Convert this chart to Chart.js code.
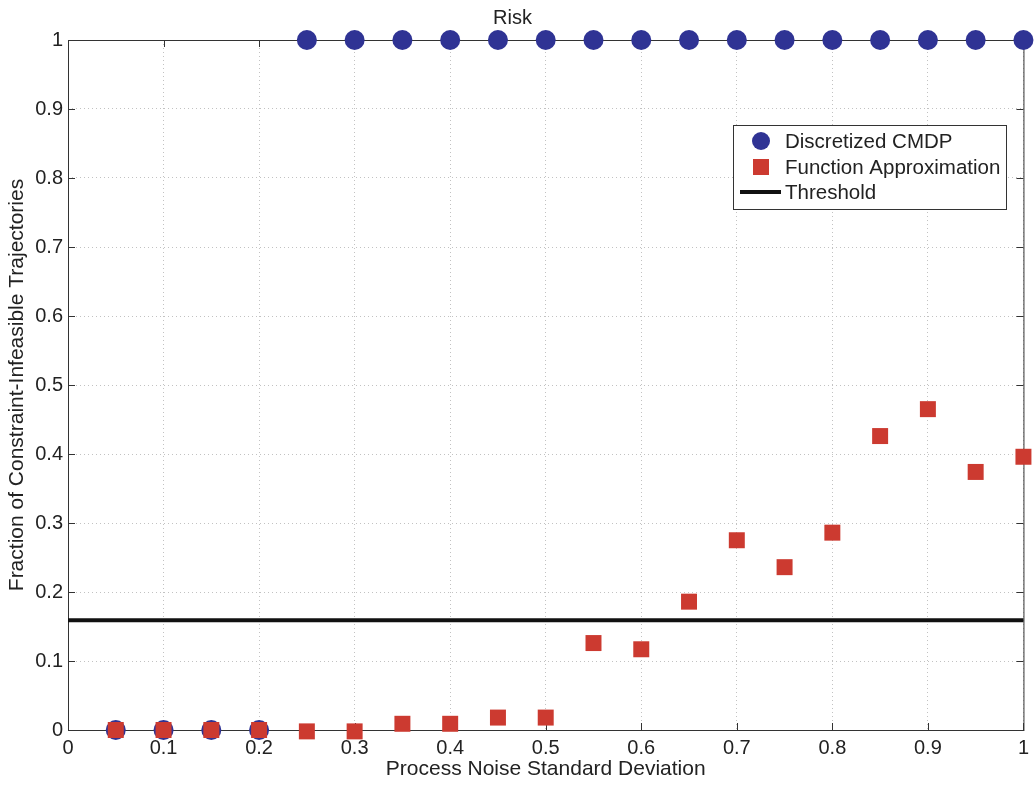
<!DOCTYPE html>
<html><head><meta charset="utf-8">
<script src="https://cdn.jsdelivr.net/npm/chart.js@4"></script>
<style>html,body{margin:0;padding:0;background:#fff}#wrap{width:1035px;height:786px}</style>
</head><body><div id="wrap"><canvas id="c" width="1035" height="786"></canvas></div>
<script>
const xValues = [0.05,0.1,0.15,0.2,0.25,0.3,0.35,0.4,0.45,0.5,0.55,0.6,0.65,0.7,0.75,0.8,0.85,0.9,0.95,1.0];
const cmdpValues = [0,0,0,0,1,1,1,1,1,1,1,1,1,1,1,1,1,1,1,1];
const funcApproxValues = [0,0,0,0,-0.002,-0.002,0.009,0.009,0.018,0.018,0.126,0.117,0.186,0.275,0.236,0.286,0.426,0.465,0.374,0.396];
const thresholdX = [0,1];
const thresholdValue = 0.159;
const tickValues = [0,0.1,0.2,0.3,0.4,0.5,0.6,0.7,0.8,0.9,1];
const seriesLabels = ['Discretized CMDP','Function Approximation','Threshold'];

const BLUE = '#2f3394', RED = '#cc3a30', FONT = '"Liberation Sans", Arial, sans-serif';

const boxPlugin = {
  id: 'box',
  beforeDatasetsDraw(chart) {
    const {ctx, chartArea: a, scales: {x, y}} = chart;
    ctx.save();
    ctx.strokeStyle = '#333'; ctx.lineWidth = 1;
    ctx.strokeRect(a.left + 0.5, a.top + 0.5, a.right - a.left, a.bottom - a.top);
    const L = 7;
    ctx.beginPath();
    tickValues.forEach(v => {
      const px = Math.round(x.getPixelForValue(v)) + 0.5;
      ctx.moveTo(px, a.bottom); ctx.lineTo(px, a.bottom - L);
      ctx.moveTo(px, a.top); ctx.lineTo(px, a.top + L);
      const py = Math.round(y.getPixelForValue(v)) + 0.5;
      ctx.moveTo(a.left, py); ctx.lineTo(a.left + L, py);
      ctx.moveTo(a.right, py); ctx.lineTo(a.right - L, py);
    });
    ctx.stroke();
    ctx.restore();
  },
  afterDraw(chart) {
    const ctx = chart.ctx;
    const bx = 733, by = 125, bw = 273, bh = 84;
    ctx.save();
    ctx.fillStyle = '#fff';
    ctx.fillRect(bx, by, bw, bh);
    ctx.strokeStyle = '#333'; ctx.lineWidth = 1;
    ctx.strokeRect(bx + 0.5, by + 0.5, bw, bh);
    ctx.textBaseline = 'middle';
    const rows = [141, 167, 192];
    ctx.beginPath(); ctx.fillStyle = BLUE; ctx.arc(761, rows[0], 9, 0, Math.PI * 2); ctx.fill();
    ctx.fillStyle = RED; ctx.fillRect(753, rows[1] - 8, 16, 16);
    ctx.strokeStyle = '#111'; ctx.lineWidth = 4;
    ctx.beginPath(); ctx.moveTo(740, rows[2]); ctx.lineTo(781, rows[2]); ctx.stroke();
    ctx.font = '20.5px ' + FONT;
    ctx.fillStyle = '#222';
    seriesLabels.forEach((t, i) => ctx.fillText(t, 785, rows[i] + 1));
    ctx.restore();
  }
};

const toPts = (xs, ys) => xs.map((v, i) => ({x: v, y: ys[i]}));
const gridOpts = { color: '#c2c2c2', drawTicks: false, lineWidth: 1 };
const borderOpts = { display: false, dash: [1, 3] };

new Chart(document.getElementById('c'), {
  type: 'scatter',
  data: {
    datasets: [
      { label: seriesLabels[1], data: toPts(xValues, funcApproxValues), pointStyle: 'rect', pointRadius: 11.3,
        backgroundColor: RED, borderColor: RED, borderWidth: 0, order: 0, clip: false },
      { label: seriesLabels[0], data: toPts(xValues, cmdpValues), pointStyle: 'circle', pointRadius: 10,
        backgroundColor: BLUE, borderColor: BLUE, borderWidth: 0, order: 1, clip: false },
      { label: seriesLabels[2], type: 'line', data: thresholdX.map(v => ({x: v, y: thresholdValue})), borderColor: '#111',
        borderWidth: 4, pointRadius: 0, order: 2, clip: false }
    ]
  },
  options: {
    responsive: false, animation: false,
    layout: { padding: { left: 0, right: 10, top: 0, bottom: 0 } },
    plugins: {
      legend: { display: false },
      tooltip: { enabled: false },
      title: { display: true, text: 'Risk', color: '#222', font: { family: FONT, size: 20, weight: 'normal' }, padding: { top: 6, bottom: 10 } }
    },
    scales: {
      x: {
        type: 'linear', min: 0, max: 1,
        afterBuildTicks: s => { s.ticks = tickValues.map(v => ({value: v})); },
        afterFit: s => { s.height = 56; },
        ticks: { color: '#222', font: { family: FONT, size: 20 }, padding: 6, maxRotation: 0, callback: v => String(+v.toFixed(2)) },
        grid: gridOpts,
        border: borderOpts,
        title: { display: true, text: 'Process Noise Standard Deviation', color: '#222', font: { family: FONT, size: 21 }, padding: { top: 0, bottom: 4 } }
      },
      y: {
        type: 'linear', min: 0, max: 1,
        afterBuildTicks: s => { s.ticks = tickValues.map(v => ({value: v})); },
        afterFit: s => { s.width = 68; },
        ticks: { color: '#222', font: { family: FONT, size: 20 }, padding: 5, callback: v => String(+v.toFixed(2)) },
        grid: gridOpts,
        border: borderOpts,
        title: { display: true, text: 'Fraction of Constraint-Infeasible Trajectories', color: '#222', font: { family: FONT, size: 21 }, padding: { top: 5, bottom: 0 } }
      }
    }
  },
  plugins: [boxPlugin]
});
</script>
</body></html>
